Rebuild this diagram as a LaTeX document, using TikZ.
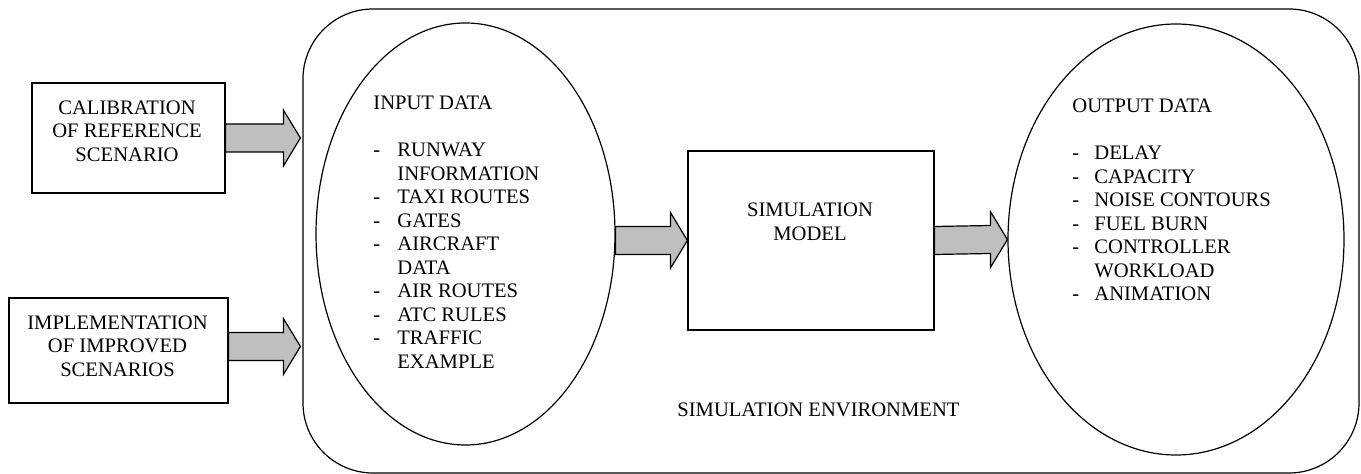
\documentclass[tikz,border=0pt]{standalone}
\usepackage{fontspec}
\setmainfont{Liberation Serif}
\usetikzlibrary{calc,shapes.geometric}
\def\blockarrow(#1)(#2){\draw[arrowfill] ($(#1)+(0,14)$) -- ($(#2)+(-17,14)$) -- ($(#2)+(-17,28)$) -- (#2) -- ($(#2)+(-17,-28)$) -- ($(#2)+(-17,-14)$) -- ($(#1)+(0,-14)$) -- cycle;}

\tikzset{
	txt/.style={inner sep=0pt, align=center, font=\fontsize{10.3}{11.75}\selectfont},
	box/.style={draw, line width=0.6pt, inner sep=0pt},
	blob/.style={draw, ellipse, line width=0.6pt, inner sep=0pt},
	arrowfill/.style={draw, line width=0.6pt, fill=black!25}
}

\begin{document}
\begin{tikzpicture}[x=0.5pt,y=-0.5pt]
			%%%%% START %%%%%
			\useasboundingbox (0,0) rectangle (1361,474);
			
			\node[box, rounded corners=35pt, minimum width=528pt, minimum height=232pt] (env) at (831,241) {};
			\node[txt, anchor=base west] (envtext) at (677,417) {SIMULATION ENVIRONMENT};
			
			\node[box, minimum width=96.5pt, minimum height=55pt] (cal) at (128.5,138) {};
			\node[txt] (caltext) at (127,131) {CALIBRATION\\OF REFERENCE\\SCENARIO};
			
			\node[box, minimum width=109.5pt, minimum height=52.5pt] (impl) at (118.5,350.5) {};
			\node[txt] (impltext) at (117.5,346) {IMPLEMENTATION\\OF IMPROVED\\SCENARIOS};
			
			\node[blob, minimum width=149.5pt, minimum height=211pt] (in) at (465.5,234) {};
			\node[txt, anchor=base west] (intext) at (373,110) {\begin{tabular}[t]{@{}p{12pt}@{}l@{}}
				\multicolumn{2}{@{}l@{}}{INPUT DATA}\\ \\
				- & RUNWAY\\
				  & INFORMATION\\
				- & TAXI ROUTES\\
				- & GATES\\
				- & AIRCRAFT\\
				  & DATA\\
				- & AIR ROUTES\\
				- & ATC RULES\\
				- & TRAFFIC\\
				  & EXAMPLE
			\end{tabular}};
			
			\node[box, minimum width=123pt, minimum height=89.5pt] (model) at (811,240.5) {};
			\node[txt] (modeltext) at (810,222) {SIMULATION\\MODEL};
			
			\node[blob, minimum width=168pt, minimum height=215.5pt] (out) at (1176,239.5) {};
			\node[txt, anchor=base west] (outtext) at (1072,113) {\begin{tabular}[t]{@{}p{11pt}@{}l@{}}
				\multicolumn{2}{@{}l@{}}{OUTPUT DATA}\\ \\
				- & DELAY\\
				- & CAPACITY\\
				- & NOISE CONTOURS\\
				- & FUEL BURN\\
				- & CONTROLLER\\
				  & WORKLOAD\\
				- & ANIMATION
			\end{tabular}};
			
			% block arrows
			\coordinate (caltip) at ($(env.west |- cal.east)+(-2,0)$);
			\coordinate (impltip) at ($(env.west |- impl.east)+(-2,-4)$);
			\coordinate (implfoot) at ($(impl.east)+(0,-4)$);
			\coordinate (inright) at (in.east |- model.west);
			
			\blockarrow(cal.east)(caltip)
			\blockarrow(implfoot)(impltip)
			\blockarrow(inright)(model.west)
			\blockarrow(model.east)(out.west)
			
			%%%%% END %%%%%
\end{tikzpicture}
\end{document}
